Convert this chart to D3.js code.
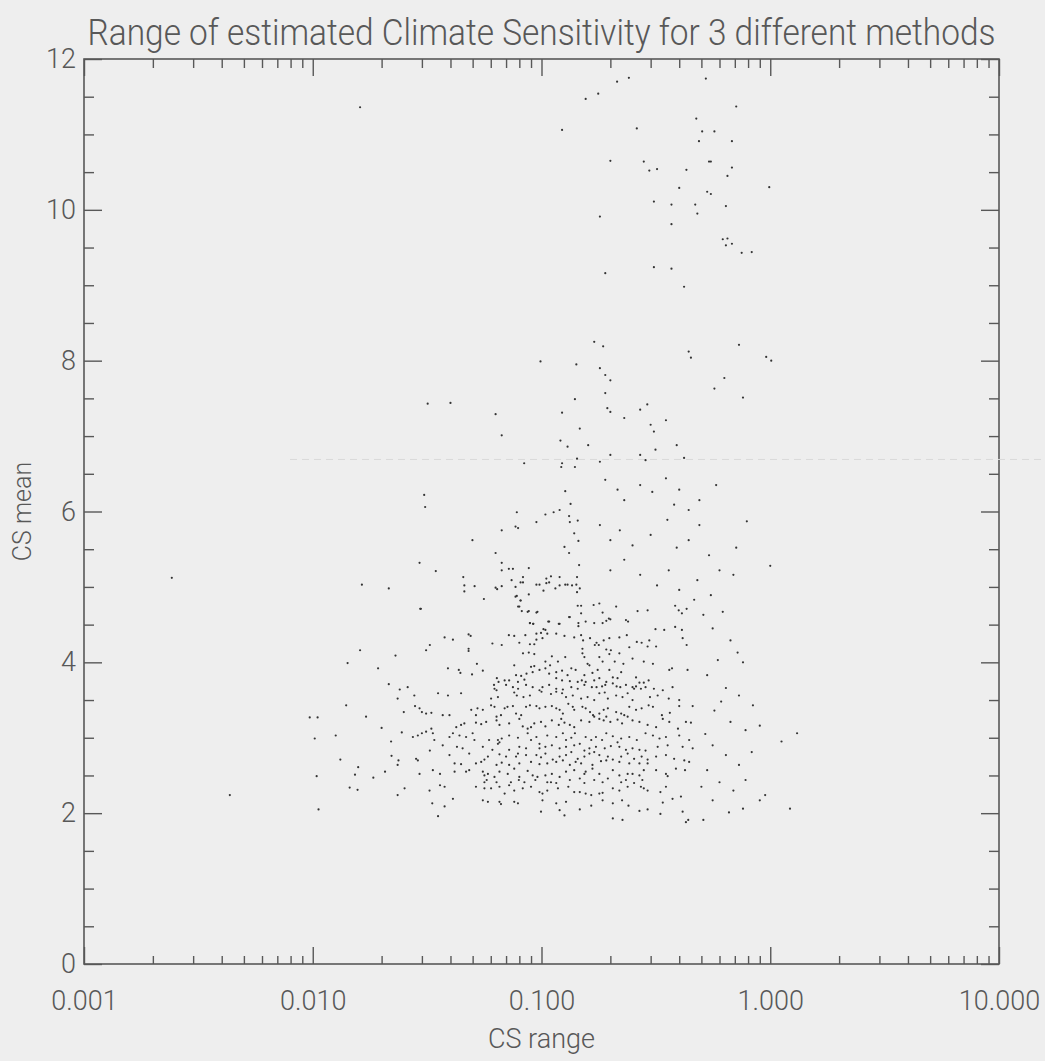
<!DOCTYPE html>
<html><head><meta charset="utf-8">
<script src="https://cdn.jsdelivr.net/npm/d3@7"></script>
<style>html,body{margin:0;padding:0;background:#eeeeee;}svg{display:block}</style>
</head><body><svg id="c" width="1045" height="1061"></svg>
<script>
const title = "Range of estimated Climate Sensitivity for 3 different methods";
const xLabel = "CS range";
const yLabel = "CS mean";
const xTickValues = [0.001, 0.01, 0.1, 1, 10];
const xTickLabels = ["0.001", "0.010", "0.100", "1.000", "10.000"];
const yTickValues = [0, 2, 4, 6, 8, 10, 12];
const yTickLabels = ["0", "2", "4", "6", "8", "10", "12"];

// [CS range, CS mean]
const upperTail = [[0.214,11.70],[0.241,11.75],[0.523,11.74],[0.156,11.47],[0.177,11.54],[0.71,11.37],[0.475,11.21],[0.123,11.06],[0.261,11.08],[0.504,11.04],[0.57,11.04],[0.488,10.91],[0.68,10.91],[0.2,10.65],[0.28,10.64],[0.296,10.52],[0.32,10.54],[0.43,10.53],[0.54,10.64],[0.55,10.64],[0.68,10.56],[0.65,10.45],[0.99,10.30],[0.40,10.29],[0.53,10.24],[0.55,10.21],[0.31,10.11],[0.37,10.07],[0.47,10.07],[0.48,9.95],[0.64,10.05],[0.18,9.91],[0.37,9.81],[0.62,9.61],[0.65,9.62],[0.64,9.53],[0.68,9.55],[0.75,9.43],[0.83,9.44],[0.31,9.24],[0.37,9.22],[0.19,9.16],[0.42,8.98],[0.17,8.25],[0.73,8.21],[0.0161,11.36]];

const upperBand = [[0.186,8.19],[0.44,8.12],[0.45,8.04],[0.96,8.05],[1.01,8.0],[0.18,7.90],[0.19,7.81],[0.19,7.57],[0.2,7.74],[0.57,7.63],[0.63,7.77],[0.76,7.51],[0.194,7.37],[0.2,7.32],[0.23,7.24],[0.27,7.35],[0.29,7.42],[0.30,7.15],[0.31,7.06],[0.35,7.21],[0.16,6.88],[0.18,6.66],[0.2,6.75],[0.27,6.75],[0.285,6.68],[0.315,6.82],[0.39,6.88],[0.42,6.71],[0.19,6.42],[0.215,6.29],[0.23,6.15],[0.27,6.35],[0.305,6.26],[0.35,6.44],[0.38,6.09],[0.40,6.29],[0.44,6.02],[0.49,6.15],[0.58,6.35],[0.79,5.87],[0.18,5.82],[0.2,5.62],[0.22,5.75],[0.25,5.55],[0.30,5.69],[0.355,5.89],[0.39,5.52],[0.44,5.62],[0.49,5.82],[0.54,5.42],[0.71,5.52],[0.2,5.22],[0.23,5.36],[0.27,5.16],[0.32,5.02],[0.36,5.22],[0.40,4.96],[0.48,5.09],[0.55,4.89],[0.6,5.22],[0.69,5.16],[1.0,5.28]];

const midBand = [[0.099,7.99],[0.142,7.95],[0.14,7.49],[0.123,7.31],[0.0318,7.43],[0.04,7.44],[0.063,7.29],[0.067,7.01],[0.121,6.94],[0.13,6.86],[0.147,7.10],[0.143,6.70],[0.123,6.64],[0.122,6.59],[0.14,6.59],[0.084,6.64],[0.127,6.27],[0.134,6.10],[0.0307,6.22],[0.031,6.06],[0.078,5.99],[0.104,5.96],[0.113,5.99],[0.12,6.02],[0.132,5.94],[0.133,5.86],[0.144,5.88],[0.095,5.86],[0.077,5.80],[0.079,5.78],[0.067,5.75],[0.0499,5.62],[0.139,5.71],[0.145,5.61],[0.126,5.53],[0.132,5.45],[0.063,5.45],[0.067,5.32],[0.0293,5.32],[0.0345,5.21],[0.067,5.22],[0.072,5.24],[0.075,5.24],[0.088,5.25],[0.146,5.29],[0.0455,5.13],[0.046,5.02],[0.046,4.94],[0.051,5.01],[0.063,4.99],[0.064,4.97],[0.067,5.01],[0.074,5.09],[0.077,5.00],[0.081,5.06],[0.083,5.06],[0.083,5.13],[0.077,4.87],[0.078,4.88],[0.088,4.90],[0.081,4.82],[0.079,4.74],[0.082,4.68],[0.088,4.68],[0.096,4.67],[0.056,4.84],[0.095,5.03],[0.098,5.03],[0.105,5.05],[0.108,5.06],[0.105,5.11],[0.11,5.14],[0.12,5.13],[0.102,4.95],[0.115,4.98],[0.12,5.02],[0.127,5.03],[0.13,5.03],[0.136,5.02],[0.142,5.03],[0.143,4.93],[0.147,4.98],[0.0164,5.03],[0.0215,4.98],[0.0297,4.71],[0.089,4.52],[0.092,4.51],[0.108,4.54],[0.12,4.51],[0.133,4.60],[0.145,4.48],[0.102,4.44],[0.144,4.75],[0.143,5.13]];

const coreCluster = [[0.081,4.82],[0.149,4.75],[0.169,4.76],[0.179,4.78],[0.212,4.74],[0.263,4.68],[0.291,4.69],[0.384,4.75],[0.398,4.69],[0.411,4.65],[0.431,4.71],[0.465,4.83],[0.080,4.74],[0.087,4.67],[0.095,4.66],[0.149,4.65],[0.185,4.66],[0.197,4.58],[0.0295,4.71],
[0.089,4.52],[0.092,4.51],[0.107,4.54],[0.119,4.51],[0.132,4.60],[0.145,4.52],[0.156,4.54],[0.170,4.52],[0.185,4.52],[0.192,4.55],[0.200,4.57],[0.234,4.56],[0.239,4.54],[0.315,4.44],[0.344,4.43],[0.384,4.47],[0.411,4.43],[0.104,4.43],[0.095,4.38],[0.0995,4.39],
[0.0377,4.33],[0.041,4.30],[0.048,4.37],[0.049,4.35],[0.072,4.36],[0.076,4.35],[0.085,4.36],[0.095,4.30],[0.101,4.32],[0.106,4.38],[0.116,4.38],[0.126,4.35],[0.139,4.33],[0.149,4.36],[0.152,4.29],[0.163,4.32],[0.174,4.26],[0.178,4.23],[0.171,4.23],[0.187,4.29],[0.198,4.32],[0.219,4.33],[0.236,4.36],[0.242,4.20],[0.261,4.27],[0.274,4.26],[0.291,4.21],[0.317,4.21],[0.296,4.29],[0.414,4.32],[0.431,4.23],[0.0325,4.23],[0.0313,4.16],[0.048,4.18],[0.048,4.15],[0.061,4.25],[0.067,4.23],[0.080,4.26],[0.089,4.24],[0.093,4.24],[0.151,4.18],[0.192,4.17],[0.201,4.16],
[0.083,4.12],[0.088,4.13],[0.093,4.11],[0.111,4.08],[0.127,4.07],[0.151,4.12],[0.154,4.07],[0.179,4.07],[0.198,4.11],[0.219,4.12],[0.250,4.05],[0.280,4.01],[0.307,3.98],[0.104,4.01],[0.118,4.01],[0.159,3.98],[0.162,3.96],[0.185,4.01],[0.209,4.01],[0.228,3.98],[0.090,3.94],[0.093,3.95],[0.076,3.96],[0.109,3.96],
[0.039,3.92],[0.0435,3.90],[0.0442,3.86],[0.0522,3.98],[0.0497,3.84],[0.0554,3.89],[0.0638,3.79],[0.0649,3.74],[0.062,3.70],[0.069,3.76],[0.0774,3.83],[0.0815,3.82],[0.086,3.85],[0.0915,3.87],[0.098,3.90],[0.104,3.92],[0.108,3.85],[0.116,3.87],[0.123,3.89],[0.130,3.83],[0.135,3.92],[0.141,3.90],[0.154,3.83],[0.167,3.86],[0.176,3.90],[0.198,3.90],[0.205,3.80],[0.215,3.79],[0.223,3.87],[0.259,3.80],[0.268,3.73],[0.280,3.73],[0.294,3.76],[0.362,3.90],[0.372,3.92],[0.435,3.90],[0.116,3.79],[0.123,3.76],[0.133,3.75],[0.144,3.74],[0.150,3.76],[0.156,3.74],[0.170,3.76],[0.179,3.79],[0.192,3.74],[0.0722,3.76],[0.0789,3.74],[0.0842,3.77],
[0.0623,3.65],[0.0636,3.63],[0.070,3.70],[0.075,3.67],[0.079,3.65],[0.0856,3.70],[0.0915,3.67],[0.098,3.63],[0.101,3.67],[0.108,3.70],[0.116,3.65],[0.124,3.64],[0.135,3.67],[0.144,3.65],[0.154,3.70],[0.166,3.67],[0.174,3.67],[0.184,3.68],[0.190,3.70],[0.205,3.72],[0.213,3.68],[0.221,3.67],[0.234,3.70],[0.250,3.67],[0.259,3.68],[0.254,3.65],[0.272,3.65],[0.285,3.67],[0.31,3.65],[0.339,3.63],[0.374,3.67],[0.026,3.67],[0.024,3.64],[0.0278,3.56],[0.0353,3.59],[0.039,3.56],[0.0445,3.59],[0.0602,3.52],[0.0645,3.54],[0.076,3.60],[0.078,3.56],[0.0834,3.54],[0.089,3.56],[0.100,3.61],[0.110,3.58],[0.116,3.61],[0.123,3.59],[0.128,3.54],[0.137,3.56],[0.149,3.52],[0.159,3.54],[0.170,3.50],[0.179,3.59],[0.189,3.60],[0.195,3.52],[0.212,3.56],[0.226,3.54],[0.238,3.59],[0.250,3.50],[0.298,3.54],[0.322,3.56],[0.360,3.52],[0.40,3.50],
[0.0293,3.39],[0.030,3.34],[0.0313,3.32],[0.0330,3.33],[0.0370,3.30],[0.0493,3.37],[0.0525,3.39],[0.0554,3.37],[0.0602,3.43],[0.0623,3.41],[0.069,3.39],[0.071,3.41],[0.075,3.42],[0.0774,3.32],[0.0815,3.30],[0.0856,3.41],[0.089,3.43],[0.095,3.42],[0.098,3.39],[0.104,3.41],[0.111,3.42],[0.116,3.39],[0.120,3.37],[0.124,3.32],[0.131,3.45],[0.137,3.41],[0.139,3.37],[0.151,3.41],[0.156,3.39],[0.163,3.34],[0.168,3.30],[0.179,3.32],[0.187,3.37],[0.195,3.39],[0.212,3.34],[0.223,3.32],[0.230,3.30],[0.242,3.41],[0.259,3.37],[0.274,3.39],[0.294,3.43],[0.307,3.41],[0.336,3.30],[0.364,3.33],[0.40,3.42],[0.458,3.42],[0.0396,3.30],[0.0517,3.30],[0.0636,3.28],[0.0665,3.30],
[0.0424,3.14],[0.0445,3.17],[0.046,3.19],[0.0517,3.20],[0.0545,3.18],[0.0573,3.21],[0.0636,3.23],[0.0655,3.17],[0.0722,3.19],[0.080,3.25],[0.0828,3.15],[0.087,3.12],[0.090,3.14],[0.093,3.19],[0.0995,3.21],[0.104,3.15],[0.111,3.23],[0.119,3.17],[0.122,3.25],[0.126,3.20],[0.133,3.17],[0.139,3.14],[0.149,3.23],[0.162,3.21],[0.170,3.28],[0.179,3.25],[0.187,3.23],[0.192,3.28],[0.200,3.21],[0.215,3.24],[0.225,3.19],[0.238,3.28],[0.250,3.23],[0.268,3.21],[0.291,3.17],[0.317,3.14],[0.339,3.25],[0.362,3.21],[0.395,3.12],[0.428,3.21],[0.450,3.20],[0.033,3.12],[0.0313,3.08],
[0.0274,3.01],[0.0288,3.03],[0.030,3.06],[0.0335,3.06],[0.034,2.97],[0.0396,3.01],[0.041,3.06],[0.0438,3.03],[0.0468,3.01],[0.050,3.06],[0.0509,2.97],[0.059,2.97],[0.0645,2.97],[0.0655,2.94],[0.067,2.99],[0.0722,3.03],[0.0789,3.00],[0.087,3.06],[0.090,2.97],[0.095,3.01],[0.098,2.92],[0.106,3.03],[0.116,3.01],[0.124,3.06],[0.128,2.97],[0.135,3.00],[0.140,3.06],[0.147,2.92],[0.156,3.01],[0.165,2.97],[0.173,3.01],[0.184,2.97],[0.192,3.06],[0.205,3.02],[0.215,2.94],[0.223,2.99],[0.242,3.01],[0.261,2.97],[0.285,3.06],[0.307,3.03],[0.328,2.99],[0.350,3.01],[0.40,3.03],[0.442,2.97],[0.0645,2.92],[0.0325,2.83],[0.037,2.90],[0.0427,2.88],[0.0452,2.86],[0.0554,2.88],[0.061,2.84],[0.0722,2.84],[0.080,2.88],[0.0856,2.86],[0.098,2.86],[0.104,2.88],[0.111,2.90],[0.120,2.86],[0.128,2.88],[0.139,2.90],[0.154,2.83],[0.162,2.86],[0.173,2.88],[0.189,2.86],[0.201,2.89],[0.219,2.88],[0.234,2.84],[0.250,2.86],[0.268,2.84],[0.285,2.83],[0.322,2.88],[0.356,2.90],[0.414,2.88],[0.458,2.86],
[0.0283,2.72],[0.0288,2.70],[0.0396,2.77],[0.0483,2.79],[0.0563,2.71],[0.0583,2.75],[0.0655,2.78],[0.070,2.75],[0.0789,2.79],[0.0774,2.75],[0.0856,2.77],[0.095,2.77],[0.0995,2.74],[0.104,2.79],[0.112,2.71],[0.120,2.75],[0.128,2.77],[0.135,2.81],[0.144,2.72],[0.154,2.75],[0.162,2.79],[0.170,2.81],[0.179,2.77],[0.195,2.75],[0.205,2.71],[0.223,2.75],[0.238,2.79],[0.254,2.72],[0.274,2.75],[0.291,2.71],[0.317,2.75],[0.350,2.77],[0.380,2.72],[0.421,2.70],[0.442,2.68],[0.0417,2.66],[0.0445,2.65],[0.0517,2.66],[0.0545,2.68],[0.0636,2.64],[0.067,2.67],[0.0722,2.64],[0.080,2.66],[0.090,2.68],[0.098,2.65],[0.106,2.66],[0.116,2.68],[0.124,2.70],[0.133,2.64],[0.141,2.68],[0.149,2.66],[0.167,2.64],[0.182,2.69],[0.192,2.70],[0.219,2.68],[0.242,2.66],[0.268,2.66],[0.291,2.66],
[0.0293,2.52],[0.0335,2.57],[0.036,2.52],[0.0417,2.55],[0.0468,2.55],[0.0483,2.57],[0.0554,2.55],[0.0563,2.50],[0.0583,2.52],[0.0623,2.48],[0.0655,2.55],[0.0712,2.52],[0.076,2.59],[0.080,2.48],[0.087,2.56],[0.0915,2.50],[0.096,2.48],[0.104,2.50],[0.111,2.52],[0.120,2.48],[0.128,2.55],[0.139,2.57],[0.154,2.52],[0.156,2.55],[0.167,2.59],[0.179,2.52],[0.205,2.57],[0.219,2.50],[0.238,2.52],[0.250,2.52],[0.268,2.50],[0.280,2.57],[0.317,2.57],[0.350,2.52],[0.356,2.49],[0.387,2.59],[0.424,2.57],[0.0563,2.41],[0.0576,2.44],[0.0636,2.41],[0.0735,2.41],[0.0796,2.44],[0.0842,2.41],[0.094,2.44],[0.106,2.41],[0.110,2.41],[0.116,2.40],[0.133,2.44],[0.147,2.46],[0.154,2.40],[0.170,2.44],[0.185,2.41],[0.195,2.46],[0.223,2.41],[0.234,2.44],[0.254,2.40],[0.276,2.44],
[0.0252,2.33],[0.0324,2.30],[0.036,2.37],[0.0377,2.35],[0.0517,2.35],[0.0563,2.33],[0.0602,2.33],[0.0655,2.35],[0.069,2.26],[0.0722,2.37],[0.076,2.30],[0.0828,2.33],[0.090,2.35],[0.098,2.28],[0.101,2.26],[0.106,2.30],[0.118,2.33],[0.131,2.35],[0.139,2.28],[0.147,2.28],[0.156,2.26],[0.165,2.24],[0.179,2.26],[0.185,2.27],[0.205,2.33],[0.219,2.30],[0.238,2.35],[0.272,2.35],[0.280,2.33],[0.291,2.30],[0.331,2.28],[0.350,2.35],[0.374,2.19],[0.407,2.22],
[0.0333,2.13],[0.0377,2.09],[0.041,2.19],[0.0554,2.17],[0.0583,2.15],[0.0655,2.15],[0.0665,2.12],[0.076,2.15],[0.0789,2.13],[0.101,2.17],[0.116,2.13],[0.128,2.15],[0.147,2.05],[0.165,2.10],[0.185,2.17],[0.205,2.13],[0.225,2.17],[0.240,2.10],[0.268,2.03],[0.291,2.05],[0.339,2.14],[0.414,2.02],[0.0353,1.96],[0.0995,2.02],[0.120,2.04],[0.126,1.97],[0.205,1.93],[0.226,1.91],[0.331,1.99],[0.428,1.88],[0.438,1.91]];

const rightFringe = [[0.51,4.63],[0.56,4.45],[0.62,4.67],[0.67,4.29],[0.72,4.13],[0.76,4.0],[0.59,4.03],[0.53,3.83],[0.64,3.66],[0.73,3.56],[0.84,3.43],[0.57,3.36],[0.67,3.21],[0.78,3.10],[0.90,3.16],[1.12,2.95],[1.31,3.06],[0.56,2.90],[0.64,2.77],[0.73,2.64],[0.83,2.81],[0.53,2.57],[0.6,2.41],[0.69,2.30],[0.78,2.44],[0.9,2.17],[0.95,2.24],[0.56,2.17],[0.66,2.01],[0.76,2.06],[0.51,1.91],[1.22,2.06],[0.52,3.05],[0.61,3.48],[0.50,2.35]];

const leftFringe = [[0.0104,2.49],[0.0106,2.05],[0.0132,2.71],[0.0145,2.34],[0.0157,2.31],[0.0153,2.51],[0.0158,2.61],[0.0184,2.47],[0.0207,2.55],[0.0221,2.76],[0.0235,2.64],[0.0237,2.70],[0.0235,2.24],[0.00434,2.24],[0.00242,5.12],[0.0097,3.27],[0.0105,3.27],[0.0102,2.99],[0.0126,3.03],[0.0142,3.99],[0.0193,3.92],[0.0215,3.71],[0.0235,3.52],[0.025,3.34],[0.028,3.42],[0.0171,3.28],[0.02,3.13],[0.022,2.95],[0.0245,3.07],[0.014,3.43],[0.0161,4.16],[0.023,4.09]];

const W = 1045, H = 1061;
const X0 = 84, X1 = 999, Y0 = 964, Y1 = 59;
const svg = d3.select("#c");
const font = "'Roboto Light', 'Lato Light', 'Open Sans Light', Roboto, sans-serif";
const ink = "#585858";

svg.append("rect").attr("width", W).attr("height", H).attr("fill", "#eeeeee");

const x = d3.scaleLog().domain([0.001, 10]).range([X0, X1]);
const y = d3.scaleLinear().domain([0, 12]).range([Y0, Y1]);

const xMinor = [];
for (let d = 0.001; d < 10; d *= 10) for (let k = 2; k <= 9; k++) xMinor.push(+(d * k).toPrecision(3));
const yMinor = d3.range(0, 12.01, 0.5).filter(v => v % 2 !== 0);

function styleAxis(g) {
  g.select(".domain").remove();
  g.selectAll("line").attr("stroke", ink).attr("stroke-width", 1.4);
  g.selectAll("text").attr("fill", ink).attr("font-family", font).attr("font-weight", 300).attr("font-size", 27);
}

svg.append("g").attr("transform", `translate(0,${Y0})`)
  .call(d3.axisBottom(x).tickValues(xTickValues).tickFormat((d, i) => xTickLabels[i]).tickSize(-17).tickPadding(27))
  .call(styleAxis);
svg.append("g").attr("transform", `translate(0,${Y0})`)
  .call(d3.axisBottom(x).tickValues(xMinor).tickFormat("").tickSize(-8)).call(styleAxis);
svg.append("g").attr("transform", `translate(0,${Y1})`)
  .call(d3.axisTop(x).tickValues(xTickValues).tickFormat("").tickSize(-17)).call(styleAxis);
svg.append("g").attr("transform", `translate(0,${Y1})`)
  .call(d3.axisTop(x).tickValues(xMinor).tickFormat("").tickSize(-9)).call(styleAxis);
svg.append("g").attr("transform", `translate(${X0},0)`)
  .call(d3.axisLeft(y).tickValues(yTickValues).tickFormat((d, i) => yTickLabels[i]).tickSize(-18).tickPadding(8))
  .call(styleAxis);
svg.append("g").attr("transform", `translate(${X0},0)`)
  .call(d3.axisLeft(y).tickValues(yMinor).tickFormat("").tickSize(-10)).call(styleAxis);
svg.append("g").attr("transform", `translate(${X1},0)`)
  .call(d3.axisRight(y).tickValues(yTickValues).tickFormat("").tickSize(-18)).call(styleAxis);
svg.append("g").attr("transform", `translate(${X1},0)`)
  .call(d3.axisRight(y).tickValues(yMinor).tickFormat("").tickSize(-10)).call(styleAxis);

svg.append("rect").attr("x", X0).attr("y", Y1).attr("width", X1 - X0).attr("height", Y0 - Y1)
  .attr("fill", "none").attr("stroke", ink).attr("stroke-width", 1.6);

svg.append("line").attr("x1", 290).attr("x2", W).attr("y1", y(6.69)).attr("y2", y(6.69))
  .attr("stroke", "#d9d9d9").attr("stroke-width", 1).attr("stroke-dasharray", "7,5");

const all = [].concat(upperTail, upperBand, midBand, coreCluster, rightFringe, leftFringe);
svg.append("g").selectAll("circle").data(all).join("circle")
  .attr("cx", d => x(d[0])).attr("cy", d => y(d[1])).attr("r", 1.1).attr("fill", "#333");

// title: measured, then horizontally condensed to the reference width
const tg = svg.append("g");
const tt = tg.append("text").attr("x", 0).attr("y", 0).attr("text-anchor", "middle")
  .attr("font-family", font).attr("font-weight", 300).attr("font-size", 37).attr("fill", ink).text(title);
const natural = tt.node().getComputedTextLength();
const sx = Math.min(1, 908 / natural);
tg.attr("transform", `translate(${(X0 + X1) / 2},45) scale(${sx},1)`);

svg.append("text").attr("x", (X0 + X1) / 2).attr("y", 1048).attr("text-anchor", "middle")
  .attr("font-family", font).attr("font-weight", 300).attr("font-size", 27).attr("fill", ink).text(xLabel);
svg.append("text").attr("transform", `translate(31,${(Y0 + Y1) / 2}) rotate(-90)`).attr("text-anchor", "middle")
  .attr("font-family", font).attr("font-weight", 300).attr("font-size", 25).attr("fill", ink).text(yLabel);
</script></body></html>
